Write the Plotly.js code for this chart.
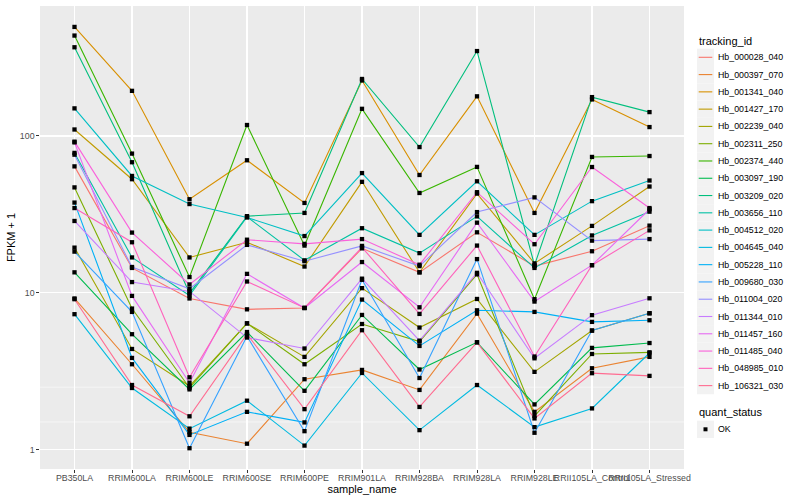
<!DOCTYPE html>
<html><head><meta charset="utf-8">
<script src="https://cdn.plot.ly/plotly-3.0.1.min.js"></script>
<style>body{margin:0;background:#fff}</style>
</head><body><div id="chart" style="width:800px;height:500px"></div>
<script>
const samples = ["PB350LA","RRIM600LA","RRIM600LE","RRIM600SE","RRIM600PE","RRIM901LA","RRIM928BA","RRIM928LA","RRIM928LE","RRII105LA_Control","RRII105LA_Stressed"];
const trackingIds = ["Hb_000028_040","Hb_000397_070","Hb_001341_040","Hb_001427_170","Hb_002239_040","Hb_002311_250","Hb_002374_440","Hb_003097_190","Hb_003209_020","Hb_003656_110","Hb_004512_020","Hb_004645_040","Hb_005228_110","Hb_009680_030","Hb_011004_020","Hb_011344_010","Hb_011457_160","Hb_011485_040","Hb_048985_010","Hb_106321_030"];
const seriesColors = ["#F8766D","#EA8331","#D89000","#C09B00","#A3A500","#7CAE00","#39B600","#00BB4E","#00BF7D","#00C1A3","#00BFC4","#00BAE0","#00B0F6","#35A2FF","#9590FF","#C77CFF","#E76BF3","#FA62DB","#FF62BC","#FF6C91"];

// FPKM + 1 per sample
const hb000028_040 = [64, 14.4, 9.2, 7.84, 8.0, 19.2, 13.5, 24.3, 14.8, 18.4, 26.8];
const hb000397_070 = [9.2, 3.50, 1.29, 1.09, 2.81, 3.22, 2.40, 7.36, 1.74, 3.30, 3.90];
const hb001341_040 = [496, 194, 39.5, 70, 37.4, 226, 56.4, 179, 32.3, 171, 114];
const hb001427_170 = [110, 53, 16.8, 21, 14.7, 51, 13.5, 42.9, 15.4, 26.7, 47.6];
const hb002239_040 = [19.4, 4.38, 2.54, 6.38, 3.90, 10.7, 6.0, 9.13, 3.13, 5.74, 7.4];
const hb002311_250 = [47, 7.93, 2.48, 6.38, 3.50, 6.32, 4.88, 13.1, 1.64, 4.07, 4.17];
const hb002374_440 = [437, 77.2, 12.6, 117.5, 20, 149, 43.3, 63.5, 9.1, 73.5, 74.5];
const hb003097_190 = [13.5, 5.44, 2.42, 5.62, 2.37, 7.22, 3.24, 4.83, 1.94, 4.45, 4.78];
const hb003209_020 = [368, 68, 9.9, 30.8, 32.3, 231, 85, 348, 15.0, 177, 142];
const hb003656_110 = [78, 16.8, 9.6, 30.5, 16.1, 25.8, 17.9, 30.7, 14.4, 23.2, 32.9];
const hb004512_020 = [150, 55.6, 36.8, 30.2, 23, 58, 23.4, 51.4, 23.4, 38.4, 52];
const hb004645_040 = [7.3, 2.47, 1.36, 2.05, 1.06, 3.08, 1.33, 2.58, 1.39, 1.83, 4.13];
const hb005228_110 = [37.6, 3.84, 1.24, 1.74, 1.49, 9.05, 4.58, 7.73, 7.55, 6.52, 6.68];
const hb009680_030 = [18.3, 7.55, 1.02, 5.28, 1.31, 12.1, 2.86, 16.4, 1.28, 5.74, 7.4];
const hb011004_020 = [76, 14.6, 10.6, 20.2, 15.9, 19.9, 14.8, 32.7, 40.6, 21.5, 22];
const hb011344_010 = [28.7, 11.7, 10.2, 5.18, 4.41, 12.3, 4.95, 13.4, 3.82, 7.2, 9.22];
const hb011457_160 = [91, 9.55, 2.67, 13.2, 8.0, 15.7, 8.08, 28, 8.79, 15.0, 34.1];
const hb011485_040 = [92, 24.2, 11.3, 21.8, 20.5, 22, 15.1, 43.8, 20.4, 63.4, 34.7];
const hb048985_010 = [34.7, 21, 2.89, 11.8, 8.0, 19.5, 7.33, 20, 3.92, 15.0, 25.0];
const hb106321_030 = [9.1, 2.58, 1.63, 5.44, 1.81, 5.77, 1.87, 4.83, 1.58, 3.07, 2.95];

const seriesValues = [hb000028_040, hb000397_070, hb001341_040, hb001427_170, hb002239_040, hb002311_250, hb002374_440, hb003097_190, hb003209_020, hb003656_110, hb004512_020, hb004645_040, hb005228_110, hb009680_030, hb011004_020, hb011344_010, hb011457_160, hb011485_040, hb048985_010, hb106321_030];
const yTickVals = [1, 10, 100];
const yTickText = ["1", "10", "100"];
const yMinorGrid = [Math.sqrt(10), Math.sqrt(1000), Math.sqrt(100000)];
const quantStatus = ["OK"];

const FONT = "Liberation Sans, Arial, Helvetica, sans-serif";
const traces = [];
seriesValues.forEach((vals, i) => {
  traces.push({
    type: "scatter", mode: "lines", x: samples, y: vals,
    name: trackingIds[i], line: {color: seriesColors[i], width: 1.1},
    showlegend: false, hoverinfo: "skip"
  });
});
const px = [], py = [];
seriesValues.forEach(vals => vals.forEach((v, j) => { px.push(samples[j]); py.push(v); }));
traces.push({type: "scatter", mode: "markers", x: px, y: py, name: quantStatus[0],
  marker: {symbol: "square", size: 4.3, color: "#000"}, showlegend: false, hoverinfo: "skip"});

// plot area in pixels
const L = 40, R = 684, T = 6, B = 469;
const W = 800, H = 500;
const toPX = p => (p - L) / (R - L);
const toPY = p => (B - p) / (B - T);

const shapes = [], annotations = [];
// thin minor grid lines (log axis: shape y given in log10 units)
yMinorGrid.forEach(v => {
  shapes.push({type: "line", xref: "paper", yref: "y", x0: 0, x1: 1, y0: Math.log10(v), y1: Math.log10(v),
    line: {color: "#FFFFFF", width: 0.55}, layer: "below"});
});
const keyX0 = 697, keyX1 = 714, keyH = 17.28, firstKeyY = 57.3;
annotations.push({xref: "paper", yref: "paper", x: toPX(697), y: toPY(40.5), xanchor: "left", yanchor: "middle",
  text: "tracking_id", showarrow: false, font: {family: FONT, size: 11, color: "#000"}});
trackingIds.forEach((id, i) => {
  const cy = firstKeyY + i * keyH;
  shapes.push({type: "rect", xref: "paper", yref: "paper", x0: toPX(keyX0), x1: toPX(keyX1),
    y0: toPY(cy - keyH / 2), y1: toPY(cy + keyH / 2), fillcolor: "#F2F2F2", line: {width: 0}, layer: "above"});
  shapes.push({type: "line", xref: "paper", yref: "paper", x0: toPX(keyX0 + 1.7), x1: toPX(keyX1 - 1.7),
    y0: toPY(cy), y1: toPY(cy), line: {color: seriesColors[i], width: 1.1}, layer: "above"});
  annotations.push({xref: "paper", yref: "paper", x: toPX(716), y: toPY(cy), xanchor: "left", yanchor: "middle",
    text: id, showarrow: false, font: {family: FONT, size: 8.8, color: "#000"}});
});
annotations.push({xref: "paper", yref: "paper", x: toPX(697), y: toPY(412), xanchor: "left", yanchor: "middle",
  text: "quant_status", showarrow: false, font: {family: FONT, size: 11, color: "#000"}});
const okY = 429.3;
shapes.push({type: "rect", xref: "paper", yref: "paper", x0: toPX(keyX0), x1: toPX(keyX1),
  y0: toPY(okY - keyH / 2), y1: toPY(okY + keyH / 2), fillcolor: "#F2F2F2", line: {width: 0}, layer: "above"});
shapes.push({type: "rect", xref: "paper", yref: "paper", x0: toPX(703.5), x1: toPX(707.5),
  y0: toPY(okY - 2), y1: toPY(okY + 2), fillcolor: "#000", line: {width: 0}, layer: "above"});
annotations.push({xref: "paper", yref: "paper", x: toPX(716), y: toPY(okY), xanchor: "left", yanchor: "middle",
  text: quantStatus[0], showarrow: false, font: {family: FONT, size: 8.8, color: "#000"}});

const layout = {
  width: W, height: H,
  margin: {l: L, r: W - R, t: T, b: H - B, pad: 0},
  paper_bgcolor: "#FFFFFF", plot_bgcolor: "#EBEBEB",
  font: {family: FONT, size: 8.8, color: "#4D4D4D"},
  showlegend: false,
  xaxis: {
    type: "category", categoryorder: "array", categoryarray: samples,
    range: [-0.6, samples.length - 0.4], tickangle: 0,
    showgrid: true, gridcolor: "#FFFFFF", gridwidth: 1.1, zeroline: false, showline: false,
    ticks: "outside", ticklen: 2.7, tickwidth: 1, tickcolor: "#333333",
    ticklabelstandoff: -2,
    tickfont: {family: FONT, size: 8.8, color: "#4D4D4D"},
    title: {text: "sample_name", font: {family: FONT, size: 11, color: "#000"}, standoff: 2}
  },
  yaxis: {
    type: "log", range: [-0.124, 2.829],
    tickmode: "array", tickvals: yTickVals, ticktext: yTickText,
    showgrid: true, gridcolor: "#FFFFFF", gridwidth: 1.1, zeroline: false, showline: false,
    ticks: "outside", ticklen: 2.7, tickwidth: 1, tickcolor: "#333333",
    tickfont: {family: FONT, size: 8.8, color: "#4D4D4D"},
    title: {text: "FPKM + 1", font: {family: FONT, size: 11, color: "#000"}, standoff: 2}
  },
  shapes: shapes, annotations: annotations
};
Plotly.newPlot("chart", traces, layout, {staticPlot: true, displayModeBar: false});
</script></body></html>
